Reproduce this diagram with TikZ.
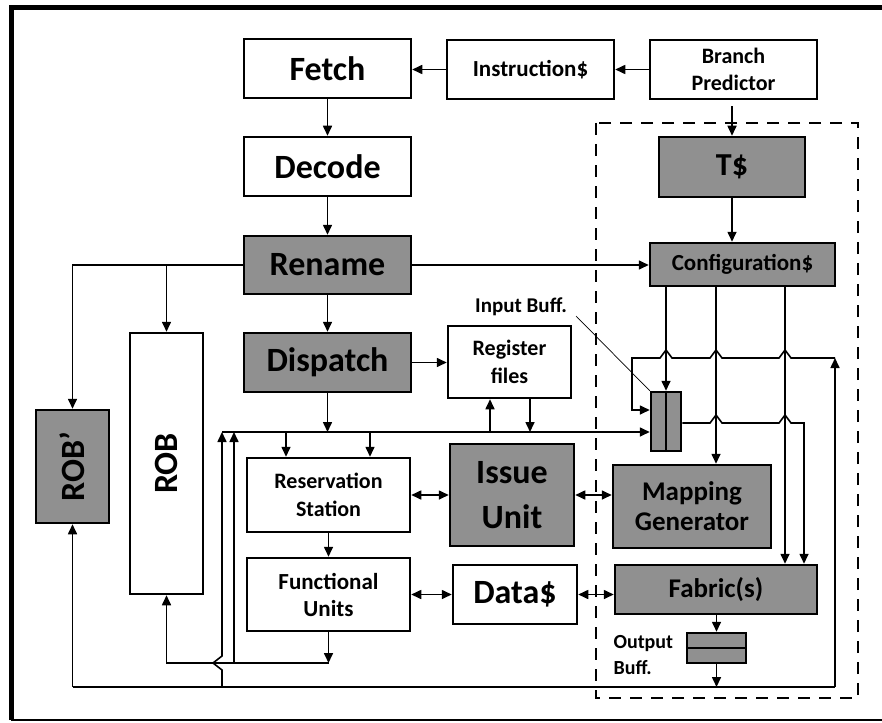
\documentclass[tikz,border=0pt]{standalone}
\usepackage{fontspec}
\usepackage{graphicx}
\setmainfont{Carlito}
\usetikzlibrary{arrows.meta}
\definecolor{boxgray}{RGB}{144,144,144}
\newcommand{\fsz}[2]{\fontsize{#1}{#2}\selectfont}
\begin{document}
\begin{tikzpicture}[x=1pt,y=-1pt,
  conn/.style={line width=1.6pt,-{Triangle[length=10pt,width=9pt]}},
  dconn/.style={line width=1.6pt,{Triangle[length=10pt,width=9pt]}-{Triangle[length=10pt,width=9pt]}},
  plain/.style={line width=1.6pt},
  blk/.style={draw,line width=2.5pt,fill=white,inner sep=0pt,align=center},
  gblk/.style={blk,fill=boxgray},
  sz/.style 2 args={minimum width=#1pt,minimum height=#2pt},
  dashbox/.style={line width=2.5pt,dash pattern=on 12pt off 9pt},
  frame/.style={line width=5pt}
]
\useasboundingbox (0,0) rectangle (882,722);
% outer frame
\draw[frame] (11,720) -- (11,8) -- (886,8);
\draw[line width=1.5pt] (11,720) -- (886,720);
% dashed region
\draw[dashbox] (596,123) rectangle (858,698);

% nodes
\node[blk,sz={167}{59},font=\bfseries\fsz{34}{40}] (fetch) at (327.5,68.5) {Fetch};
\node[blk,sz={167}{59},font=\bfseries\fsz{34}{40}] (decode) at (327.5,166.5) {Decode};
\node[gblk,sz={167}{58},font=\bfseries\fsz{34}{40}] (rename) at (327.5,265) {Rename};
\node[gblk,sz={167}{59},font=\bfseries\fsz{34}{40}] (dispatch) at (327.5,362.5) {Dispatch};
\node[blk,sz={167}{59},font=\bfseries\fsz{23}{28}] (icache) at (530.5,69.5) {Instruction\$};
\node[blk,sz={167}{59},font=\bfseries\fsz{22}{27}] (bp) at (733.5,69.5) {Branch\\Predictor};
\node[gblk,sz={146}{60},font=\bfseries\fsz{32}{36}] (tc) at (732,167) {T\$};
\node[gblk,sz={185}{43},font=\bfseries\fsz{23}{28}] (cfg) at (742.5,264.5) {Configuration\$};
\node[blk,sz={123}{72},font=\bfseries\fsz{22}{28}] (rf) at (509.5,362) {Register\\files};
\node[gblk,sz={30}{59}] (inb) at (666,421.5) {};
\node[gblk,sz={124}{102},font=\bfseries\fsz{34}{45}] (issue) at (512,495) {Issue\\Unit};
\node[blk,sz={163}{74},font=\bfseries\fsz{22}{28}] (rs) at (328.5,495) {Reservation\\Station};
\node[blk,sz={163}{73},font=\bfseries\fsz{23}{27}] (fu) at (328.5,594.5) {Functional\\Units};
\node[blk,sz={124}{59},font=\bfseries\fsz{34}{40}] (dc) at (515,594.5) {Data\$};
\node[gblk,sz={158}{83},font=\bfseries\fsz{27}{30}] (mg) at (692,506.5) {Mapping\\Generator};
\node[gblk,sz={202}{49},font=\bfseries\fsz{27}{32}] (fab) at (716,589.5) {Fabric(s)};
\node[gblk,sz={59}{30}] (outb) at (716.5,648) {};
\node[blk,sz={73}{261},font=\bfseries\fsz{34}{40}] (rob) at (166.5,463.5) {\rotatebox{90}{ROB}};
\node[gblk,sz={73}{113},font=\bfseries\fsz{34}{40}] (robp) at (72.5,466.5) {\rotatebox{90}{ROB’}};
\draw[line width=2.5pt] (inb.north) -- (inb.south);
\draw[line width=2.5pt] (outb.west) -- (outb.east);

% labels
\node[font=\bfseries\fsz{21}{25}] (inlbl) at (521,307) {Input Buff.};
\node[font=\bfseries\fsz{20}{26},align=left,anchor=west] (outlbl) at (610,655) {Output\\Buff.};
\draw[line width=0.7pt] (576,316) -- (inb.north west);

% front end
\draw[conn] (bp) -- (icache);
\draw[conn] (icache.west) -- (icache.west -| fetch.east);
\draw[conn] (fetch) -- (decode);
\draw[conn] (decode) -- (rename);
\draw[conn] (rename) -- (dispatch);
\draw[conn] ([yshift=-6pt]bp.south -| tc.north) -- (tc.north);
\draw[conn] (tc.south) -- (tc.south |- cfg.north);
\draw[conn] (rename.east) -- (rename.east -| cfg.west);
\draw[conn] (rename.west) -- (rename.west -| robp.north) -- (robp.north);
\draw[conn] (rename.west -| rob.north) -- (rob.north);
\draw[conn] (dispatch.east) -- (dispatch.east -| rf.west);

% bus
\coordinate (bus) at (222,432);
\draw[conn] (dispatch.south) -- (dispatch.south |- bus);
\draw[conn] (bus) -- (bus -| inb.west);
\draw[conn] (286,432) -- (rs.north -| 286,0);
\draw[conn] (370,432) -- (rs.north -| 370,0);
\draw[conn] (490,432) -- (rf.south -| 490,0);
\draw[conn] (rf.south -| 530,0) -- (530,432);
\draw[conn] (222,687) -- (222,670) -- (213,663) -- (222,656) -- (bus);
\draw[conn] (234,663) -- (234,432);

% execution
\draw[conn] (rs) -- (fu);
\draw[conn] (fu.south) -- (fu.south |- 0,663);
\draw[conn] (fu.south |- 0,663) -- (rob.south |- 0,663) -- (rob.south);
\draw[dconn] (rs) -- (issue);
\draw[dconn] (issue.east) -- (issue.east -| mg.west);
\draw[dconn] (fu.east) -- (fu.east -| dc.west);
\draw[dconn] (dc.east) -- (dc.east -| fab.west);

% fabric side
\draw[conn] (cfg.south -| inb.north) -- (inb.north);
\draw[conn] (cfg.south -| 716,0) -- (mg.north -| 716,0);
\draw[conn] (cfg.south -| 785,0) -- (fab.north -| 785,0);
\draw[conn] (835,687) -- (835,358);
\draw[conn] (835,358) -- (791,358) -- (785,350) -- (779,358) -- (722,358) -- (716,350) -- (710,358)
  -- (672,358) -- (666,350) -- (660,358) -- (632,358) -- (632,410) -- (inb.west |- 0,410);
\draw[conn] (inb.east |- 0,423) -- (710,423) -- (716,415) -- (722,423) -- (779,423) -- (785,415)
  -- (791,423) -- (804,423) -- (fab.north -| 804,0);
\draw[conn] (fab.south -| outb.north) -- (outb.north);
\draw[conn] (outb.south) -- (outb.south |- 0,687);
\draw[plain] (72.5,687) -- (835,687);
\draw[conn] (72.5,687) -- (robp.south);
\end{tikzpicture}
\end{document}
